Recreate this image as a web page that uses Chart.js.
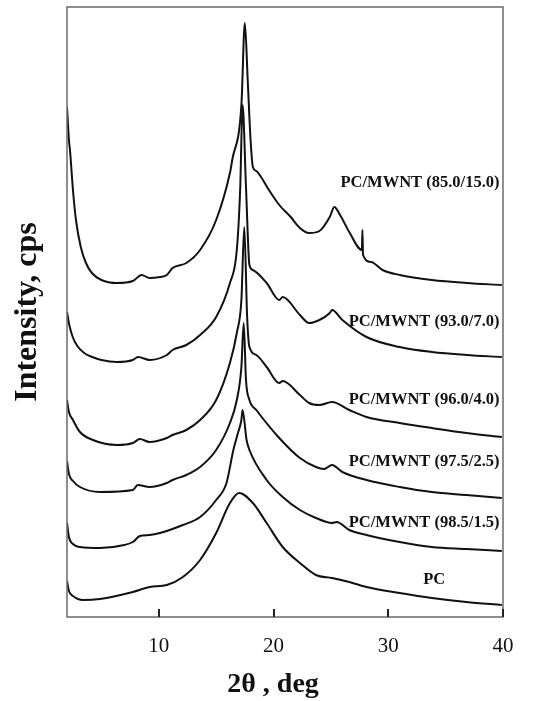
<!DOCTYPE html>
<html>
<head>
<meta charset="utf-8">
<title>XRD patterns of PC/MWNT composites</title>
<script src="https://cdn.jsdelivr.net/npm/chart.js@4.4.1/dist/chart.umd.min.js"></script>
<style>
  html, body { margin: 0; padding: 0; background: #fff; }
  #xrd { display: block; }
</style>
</head>
<body>
<canvas id="xrd" width="536" height="701"></canvas>
<script>
// ---------------------
// Patterns: [2theta (deg), intensity (a.u., stacked offset included)]
// ---------------------

const mwnt15 = [
  [2.0, 510], [2.17, 477], [2.26, 467], [2.52, 427], [2.78, 397], [3.2, 370], [3.65, 354],
  [4.17, 344], [5.0, 337], [6.35, 334], [7.74, 336], [8.5, 342], [9.2, 339], [10.1, 340],
  [10.7, 342], [11.2, 349], [12.4, 354], [13.6, 367], [15.0, 397], [16.2, 444], [16.4, 457],
  [17.2, 512], [17.5, 594], [17.75, 537], [18.0, 477], [18.2, 450], [18.5, 446], [18.8, 442],
  [19.6, 427], [20.5, 412], [21.5, 400], [22.3, 389], [23.1, 384], [24.0, 386], [24.9, 400],
  [25.3, 410], [25.8, 402], [26.6, 385], [27.7, 367], [27.75, 387], [27.8, 362], [28.5, 355],
  [29.5, 347], [31.0, 342], [33.8, 337], [36.8, 334], [39.9, 332]
];

const mwnt7 = [
  [2.0, 305], [2.2, 292], [2.5, 280], [2.9, 271], [3.5, 264], [4.2, 260], [5.0, 257],
  [6.35, 255], [7.74, 257], [8.2, 260], [9.2, 257], [10.7, 262], [11.2, 267], [12.4, 272],
  [13.6, 282], [15.0, 300], [16.2, 334], [16.8, 367], [17.1, 430], [17.3, 512], [17.6, 430],
  [17.9, 352], [18.2, 347], [19.4, 334], [20.5, 317], [20.8, 320], [22.3, 302], [23.1, 294],
  [24.0, 297], [24.9, 304], [25.1, 307], [26.0, 297], [28.1, 280], [31.0, 270], [33.8, 265],
  [36.8, 262], [39.9, 260]
];

const mwnt4 = [
  [2.0, 217], [2.17, 205], [2.52, 197], [3.13, 185], [4.26, 177], [6.35, 172], [7.74, 174],
  [8.35, 178], [9.2, 175], [10.7, 179], [11.2, 182], [12.4, 187], [13.6, 197], [15.0, 217],
  [16.2, 254], [16.8, 284], [17.2, 317], [17.45, 390], [17.7, 300], [17.9, 270], [18.5, 262],
  [19.4, 250], [20.5, 234], [20.8, 236], [22.3, 222], [23.1, 214], [24.0, 212], [25.1, 215],
  [26.6, 207], [28.1, 200], [31.0, 194], [33.8, 189], [36.8, 184], [39.9, 180]
];

const mwnt25 = [
  [2.0, 156], [2.17, 143], [2.52, 136], [3.13, 130], [4.87, 125], [7.74, 127], [8.17, 132],
  [9.2, 130], [10.7, 134], [11.2, 137], [12.4, 142], [13.6, 150], [15.0, 167], [16.2, 194],
  [16.8, 217], [17.2, 250], [17.4, 294], [17.6, 237], [17.9, 217], [18.5, 207], [20.5, 179],
  [22.3, 159], [23.7, 150], [24.4, 148], [25.1, 152], [26.0, 145], [28.1, 137], [31.0, 130],
  [33.8, 125], [36.8, 122], [39.9, 119]
];

const mwnt15low = [
  [2.0, 94], [2.17, 80], [2.52, 73], [3.13, 70], [4.87, 69], [7.0, 72], [7.74, 75],
  [8.35, 81], [9.2, 82], [10.1, 84], [12.1, 92], [13.6, 100], [15.0, 117], [15.9, 134],
  [16.5, 167], [16.9, 184], [17.2, 197], [17.3, 207], [17.65, 177], [17.9, 167], [19.4, 137],
  [20.8, 120], [22.3, 107], [23.7, 99], [25.1, 94], [25.5, 95], [26.6, 87], [28.1, 82],
  [31.0, 75], [33.8, 70], [36.8, 68], [39.9, 66]
];

const pcOnly = [
  [2.0, 36], [2.17, 26], [2.52, 21], [3.4, 17], [4.87, 18], [7.74, 25], [9.2, 30], [10.7, 32],
  [12.1, 40], [13.6, 57], [15.0, 84], [16.2, 114], [17.0, 124], [18.2, 114], [19.4, 94],
  [20.8, 70], [22.3, 54], [23.7, 42], [25.1, 39], [26.6, 35], [28.1, 30], [31.0, 24],
  [33.8, 19], [36.8, 15], [39.9, 12]
];

const sampleNames = [
  "PC/MWNT (85.0/15.0)", "PC/MWNT (93.0/7.0)", "PC/MWNT (96.0/4.0)",
  "PC/MWNT (97.5/2.5)", "PC/MWNT (98.5/1.5)", "PC"
];
const xTicks = [10, 20, 30, 40];

// where each name sits, in axis units
const labelSpots = [[39.7, 434], [39.7, 295], [39.7, 217], [39.7, 155], [39.7, 94], [34.0, 37]];
const labelAlign = ["right", "right", "right", "right", "right", "center"];

// ---------------------
// Frame, inward ticks, x title and curve names
// ---------------------

const decorations = {
  id: 'decorations',
  afterDraw(chart) {
    const { ctx, chartArea: a, scales: { x, y } } = chart;
    ctx.save();

    ctx.strokeStyle = '#6a6a6a';
    ctx.lineWidth = 1.5;
    ctx.strokeRect(a.left, a.top, a.right - a.left, a.bottom - a.top);

    ctx.strokeStyle = '#222';
    ctx.lineWidth = 2;
    x.ticks.forEach(t => {
      const px = Math.round(x.getPixelForValue(t.value));
      ctx.beginPath();
      ctx.moveTo(px, a.bottom);
      ctx.lineTo(px, a.bottom - 8);
      ctx.stroke();
    });

    ctx.fillStyle = '#111';
    ctx.textBaseline = 'middle';

    // axis title sits a little left of the plot centre
    ctx.font = 'bold 28px "Liberation Serif"';
    ctx.textAlign = 'center';
    ctx.fillText('2θ , deg', (a.left + a.right) / 2 - 12, 685);

    ctx.font = 'bold 16.5px "Liberation Serif"';
    sampleNames.forEach((name, i) => {
      ctx.textAlign = labelAlign[i];
      ctx.fillText(name, x.getPixelForValue(labelSpots[i][0]), y.getPixelForValue(labelSpots[i][1]));
    });

    ctx.restore();
  }
};

// ---------------------
// Chart
// ---------------------

const series = [mwnt15, mwnt7, mwnt4, mwnt25, mwnt15low, pcOnly];

new Chart(document.getElementById('xrd'), {
  type: 'line',
  data: {
    datasets: series.map((pts, i) => ({
      label: sampleNames[i],
      data: pts,
      borderColor: '#111',
      borderWidth: 2,
      pointRadius: 0,
      cubicInterpolationMode: 'monotone',
      fill: false
    }))
  },
  options: {
    responsive: false,
    animation: false,
    layout: { padding: { top: 7, right: 33, left: 0, bottom: 0 } },
    plugins: {
      legend: { display: false },
      tooltip: { enabled: false }
    },
    scales: {
      x: {
        type: 'linear',
        min: 2,
        max: 40,
        afterBuildTicks: s => { s.ticks = xTicks.map(v => ({ value: v })); },
        afterFit: s => { s.height = 84; },
        grid: { display: false, drawTicks: false },
        border: { display: false },
        ticks: {
          color: '#111',
          padding: 17,
          font: { family: '"Liberation Serif"', size: 21 }
        }
      },
      y: {
        min: 0,
        max: 610,
        afterFit: s => { s.width = 67; },
        grid: { display: false, drawTicks: false },
        border: { display: false },
        ticks: { display: false },
        title: {
          display: true,
          text: 'Intensity, cps',
          color: '#111',
          padding: { top: 9, bottom: 0 },
          font: { family: '"Liberation Serif"', size: 32, weight: 'bold', lineHeight: 1.2 }
        }
      }
    }
  },
  plugins: [decorations]
});
</script>
</body>
</html>
